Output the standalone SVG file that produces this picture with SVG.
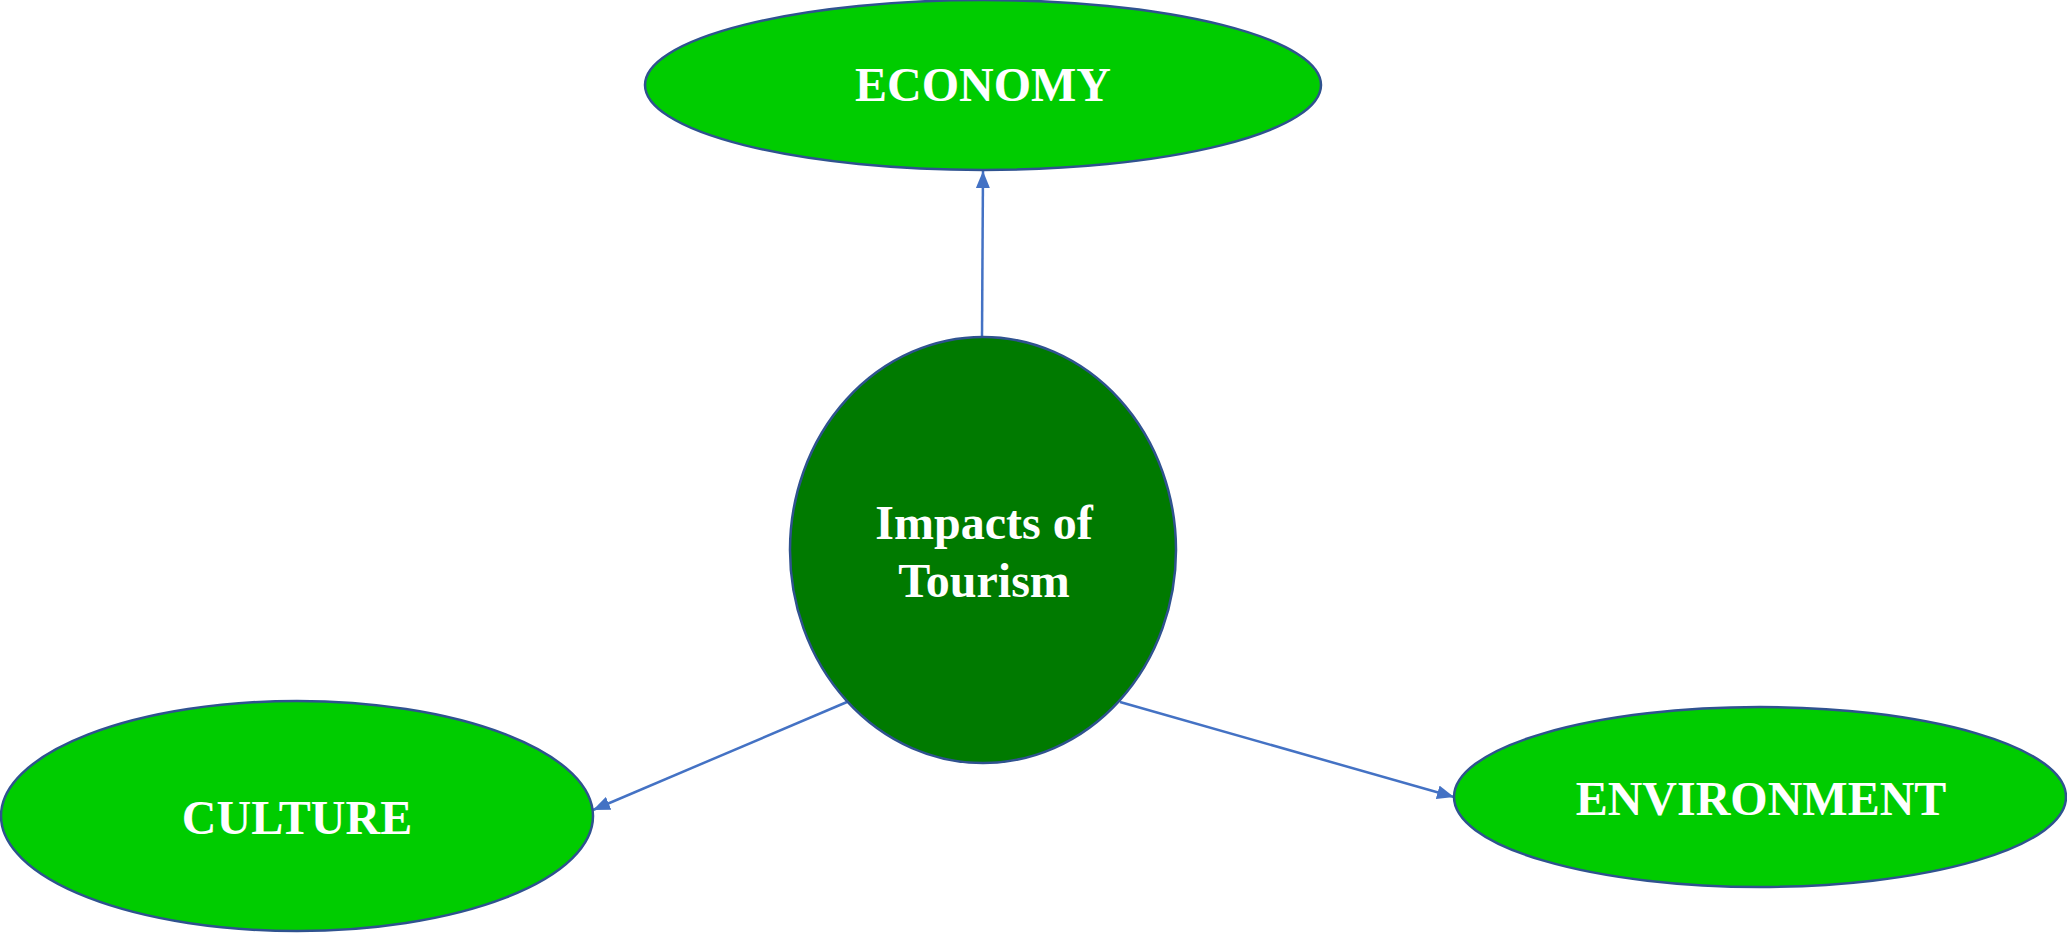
<svg xmlns="http://www.w3.org/2000/svg" width="2067" height="933" viewBox="0 0 2067 933">
  <style>
    .node { stroke: #2F528F; stroke-width: 2.5; }
    .outer { fill: #00CC00; }
    .hub { fill: #007A00; }
    .label { font-family: "Liberation Serif", "Times New Roman", serif; font-weight: bold; font-size: 48px; fill: #FFFFFF; text-anchor: middle; }
    .link { stroke: #4472C4; stroke-width: 2.5; fill: none; marker-end: url(#arrow); }
  </style>
  <defs>
    <marker id="arrow" markerUnits="userSpaceOnUse" markerWidth="18" markerHeight="14" refX="17" refY="7" orient="auto">
      <path d="M0,0 L17,7 L0,14 Z" fill="#4472C4"/>
    </marker>
  </defs>
  <rect width="2067" height="933" fill="#FFFFFF"/>

  <g id="connectors">
    <line class="link" x1="982" y1="337" x2="983" y2="171"/>
    <line class="link" x1="847" y1="702" x2="593" y2="810"/>
    <line class="link" x1="1120" y1="702" x2="1454" y2="797"/>
  </g>

  <g id="economy">
    <ellipse class="node outer" cx="983" cy="85" rx="338" ry="85"/>
    <text class="label" x="983" y="101">ECONOMY</text>
  </g>

  <g id="impacts-of-tourism">
    <ellipse class="node hub" cx="983" cy="550" rx="193" ry="213"/>
    <text class="label" x="984" y="539">Impacts of</text>
    <text class="label" x="984" y="597">Tourism</text>
  </g>

  <g id="culture">
    <ellipse class="node outer" cx="297" cy="816" rx="296" ry="115"/>
    <text class="label" x="297" y="834">CULTURE</text>
  </g>

  <g id="environment">
    <ellipse class="node outer" cx="1760" cy="797" rx="306" ry="90"/>
    <text class="label" x="1761" y="815">ENVIRONMENT</text>
  </g>
</svg>
